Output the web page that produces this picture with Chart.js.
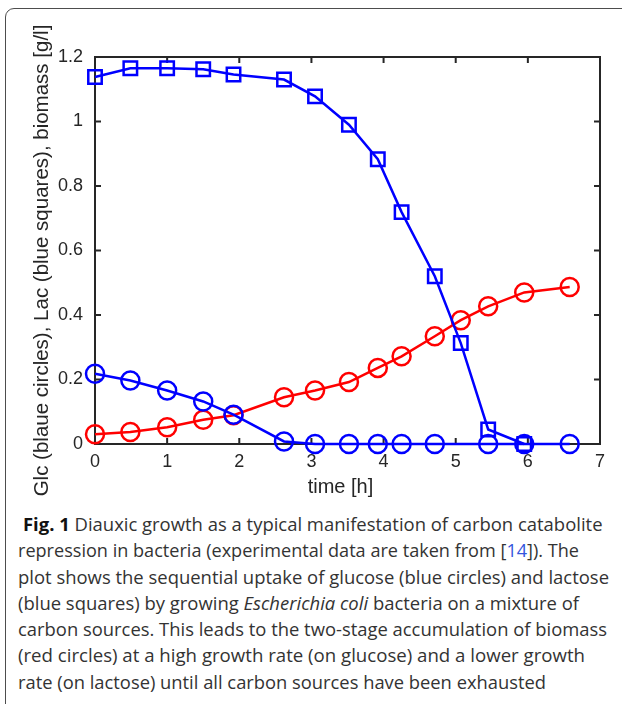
<!DOCTYPE html>
<html>
<head>
<meta charset="utf-8">
<script src="https://cdn.jsdelivr.net/npm/chart.js@4.4.1/dist/chart.umd.min.js"></script>
<style>
  html, body { margin: 0; padding: 0; background: #fff; overflow: hidden; }
  body { width: 622px; height: 704px; position: relative; }
  #frame {
    position: absolute; left: 5px; top: 8px; width: 680px; height: 760px;
    border: 1px solid #4d4d4d; border-radius: 9px;
  }
  #chart { position: absolute; left: 0; top: 0; }
  #caption {
    position: absolute; left: 18px; top: 511px;
    font-family: "Open Sans", sans-serif; font-size: 18.6px; line-height: 26.3px;
    color: #333;
  }
  #caption .ln { white-space: nowrap; width: max-content; transform-origin: 0 0; }
  #caption .ln.first { padding-left: 5px; }
  #caption b { color: #111; }
  #caption .ref { color: #3355dd; }
</style>
</head>
<body>
<div id="frame"></div>
<canvas id="chart" width="622" height="510"></canvas>
<div id="caption">
  <div class="ln first"><b>Fig. 1</b> Diauxic growth as a typical manifestation of carbon catabolite</div>
  <div class="ln">repression in bacteria (experimental data are taken from [<span class="ref">14</span>]). The</div>
  <div class="ln">plot shows the sequential uptake of glucose (blue circles) and lactose</div>
  <div class="ln">(blue squares) by growing <i>Escherichia coli</i> bacteria on a mixture of</div>
  <div class="ln">carbon sources. This leads to the two-stage accumulation of biomass</div>
  <div class="ln">(red circles) at a high growth rate (on glucose) and a lower growth</div>
  <div class="ln">rate (on lactose) until all carbon sources have been exhausted</div>
</div>
<script>
// glucose (blue circles)
const glcTime = [0, 0.49, 1.0, 1.5, 1.92, 2.62, 3.05, 3.52, 3.92, 4.25, 4.71, 5.45, 5.95, 6.58];
const glc = [0.218, 0.197, 0.166, 0.132, 0.091, 0.008, 0, 0, 0, 0, 0, 0, 0, 0];

// lactose (blue squares)
const lacTime = [0, 0.49, 1.0, 1.5, 1.92, 2.62, 3.05, 3.52, 3.92, 4.25, 4.71, 5.07, 5.45, 5.95];
const lac = [1.138, 1.165, 1.165, 1.162, 1.146, 1.130, 1.078, 0.990, 0.883, 0.719, 0.520, 0.313, 0.045, 0];

// biomass (red circles)
const bioTime = [0, 0.49, 1.0, 1.5, 1.92, 2.62, 3.05, 3.52, 3.92, 4.25, 4.71, 5.07, 5.45, 5.95, 6.58];
const biomass = [0.030, 0.037, 0.052, 0.075, 0.089, 0.145, 0.166, 0.192, 0.236, 0.272, 0.334, 0.384, 0.427, 0.470, 0.487];

const xTicks = [0, 1, 2, 3, 4, 5, 6, 7];
const yTicks = [0, 0.2, 0.4, 0.6, 0.8, 1, 1.2];

const xTitle = "time [h]";
const yTitle = "Glc (blaue circles), Lac (blue squares), biomass [g/l]";

const axisColor = "#262626";
const fontFamily = "'Liberation Sans', Arial, sans-serif";
const toPoints = (xs, ys) => xs.map((x, i) => ({ x: x, y: ys[i] }));

function series(label, xs, ys, color, style, radius) {
  return {
    label: label,
    data: toPoints(xs, ys),
    borderColor: color,
    borderWidth: 2.5,
    pointStyle: style,
    pointRadius: radius,
    pointBorderWidth: 2.5,
    pointBorderColor: color,
    pointBackgroundColor: "rgba(0,0,0,0)",
    showLine: true,
    tension: 0,
    clip: false
  };
}

// MATLAB style box with inward ticks on all four sides
const boxPlugin = {
  id: "matlabBox",
  beforeDatasetsDraw(chart) {
    const { ctx, chartArea: a, scales: { x, y } } = chart;
    const len = 6;
    ctx.save();
    ctx.strokeStyle = axisColor;
    ctx.lineWidth = 2;
    ctx.strokeRect(a.left, a.top, a.right - a.left, a.bottom - a.top);
    ctx.beginPath();
    x.ticks.forEach(t => {
      const px = x.getPixelForValue(t.value);
      ctx.moveTo(px, a.bottom); ctx.lineTo(px, a.bottom - len);
      ctx.moveTo(px, a.top); ctx.lineTo(px, a.top + len);
    });
    y.ticks.forEach(t => {
      const py = y.getPixelForValue(t.value);
      ctx.moveTo(a.left, py); ctx.lineTo(a.left + len, py);
      ctx.moveTo(a.right, py); ctx.lineTo(a.right - len, py);
    });
    ctx.stroke();
    ctx.restore();
  }
};

// axis titles, placed a little off-centre like the original
const titlePlugin = {
  id: "axisTitles",
  afterDraw(chart) {
    const { ctx, chartArea: a } = chart;
    ctx.save();
    ctx.fillStyle = axisColor;
    ctx.textAlign = "center";
    ctx.textBaseline = "middle";
    ctx.font = "20px " + fontFamily;
    ctx.fillText(xTitle, (a.left + a.right) / 2 - 7, a.bottom + 43);
    ctx.translate(42, (a.top + a.bottom) / 2 + 10);
    ctx.rotate(-Math.PI / 2);
    ctx.font = "20.5px " + fontFamily;
    ctx.fillText(yTitle, 0, 0);
    ctx.restore();
  }
};

const tickFont = { family: fontFamily, size: 18 };

new Chart(document.getElementById("chart"), {
  type: "scatter",
  data: {
    datasets: [
      series("Glc", glcTime, glc, "#0000ff", "circle", 9),
      series("Lac", lacTime, lac, "#0000ff", "rect", 9.5),
      series("biomass", bioTime, biomass, "#ff0000", "circle", 9)
    ]
  },
  options: {
    responsive: false,
    animation: false,
    events: [],
    devicePixelRatio: 1,
    layout: { padding: { left: 0, top: 57, right: 22, bottom: 0 } },
    plugins: {
      legend: { display: false },
      tooltip: { enabled: false }
    },
    scales: {
      x: {
        type: "linear",
        min: 0,
        max: 7,
        afterBuildTicks: s => { s.ticks = xTicks.map(v => ({ value: v })); },
        afterFit: s => { s.height = 66; },
        grid: { display: false, drawTicks: false },
        border: { display: false },
        ticks: { color: axisColor, font: tickFont, padding: 7, maxRotation: 0, callback: v => String(v) }
      },
      y: {
        type: "linear",
        min: 0,
        max: 1.2,
        afterBuildTicks: s => { s.ticks = yTicks.map(v => ({ value: v })); },
        afterFit: s => { s.width = 95; },
        grid: { display: false, drawTicks: false },
        border: { display: false },
        ticks: { color: axisColor, font: tickFont, padding: 12, callback: v => String(v) }
      }
    }
  },
  plugins: [boxPlugin, titlePlugin]
});

// squeeze each caption line to the measured width of the original
const lineEnds = [602.5, 579, 609, 579, 607, 585, 546];
document.querySelectorAll("#caption .ln").forEach((ln, i) => {
  const w = ln.getBoundingClientRect().width;
  ln.style.transform = "scaleX(" + ((lineEnds[i] - 18) / w) + ")";
});
</script>
</body>
</html>
